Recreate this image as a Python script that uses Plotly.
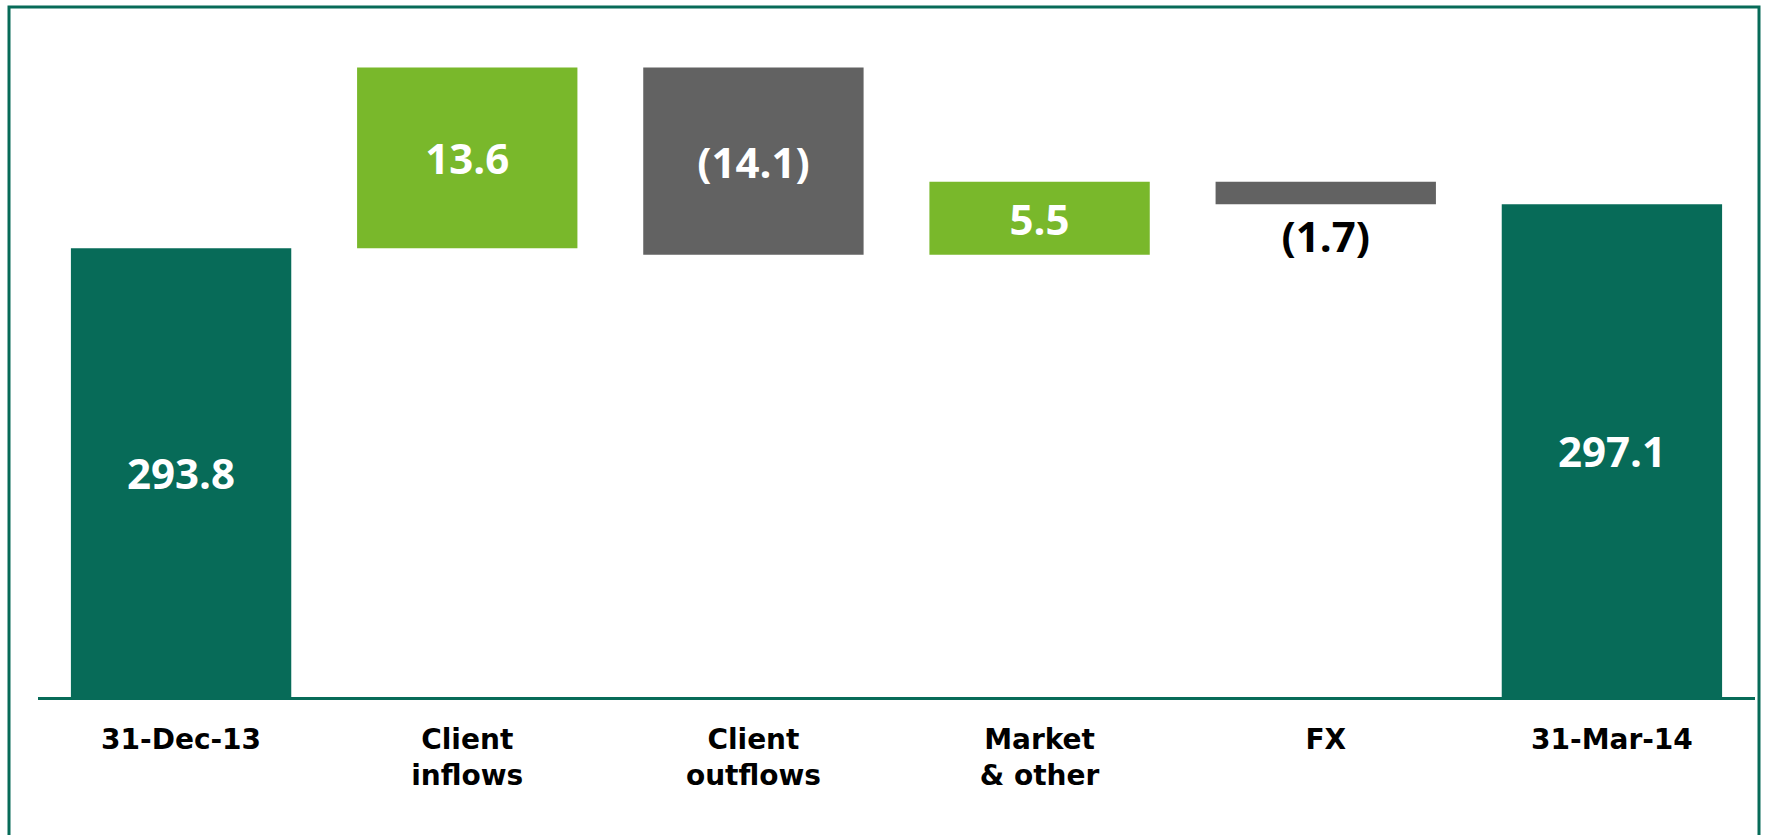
import plotly.graph_objects as go

categories = ["31-Dec-13", "Client<br>inflows", "Client<br>outflows", "Market<br>& other", "FX", "31-Mar-14"]
values = [293.8, 13.6, -14.1, 5.5, -1.7, 297.1]
measures = ["absolute", "relative", "relative", "relative", "relative", "total"]
labels = ["293.8", "13.6", "(14.1)", "5.5", "(1.7)", "297.1"]

Y_MIN, Y_MAX = 260, 310

W, H = 1771, 835
DARK = "#076b58"
GREEN = "#79b82b"
GREY = "#626262"
VALUE_FONT = "Open Sans"

# text shown by the trace for change bars; totals are labelled by annotations
trace_text = [("" if m != "relative" else t) for m, t in zip(measures, labels)]
text_pos = []
for m, v in zip(measures, values):
    if m != "relative":
        text_pos.append("none")
    elif abs(v) < 3:
        text_pos.append("outside")
    else:
        text_pos.append("inside")

fig = go.Figure(go.Waterfall(
    x=categories,
    y=values,
    measure=measures,
    text=trace_text,
    textposition=text_pos,
    texttemplate="<b>%{text}</b>",
    insidetextfont=dict(family=VALUE_FONT, size=42, color="white"),
    outsidetextfont=dict(family=VALUE_FONT, size=42, color="black"),
    insidetextanchor="middle",
    constraintext="none",
    cliponaxis=False,
    increasing=dict(marker=dict(color=GREEN)),
    decreasing=dict(marker=dict(color=GREY)),
    totals=dict(marker=dict(color=DARK)),
    connector=dict(visible=False),
    hoverinfo="skip",
))

annotations = []
for c, m, v, t in zip(categories, measures, values, labels):
    if m != "relative":
        annotations.append(dict(
            x=c, y=(Y_MIN + v) / 2, xref="x", yref="y",
            text="<b>" + t + "</b>", showarrow=False,
            font=dict(family=VALUE_FONT, size=42, color="white"),
        ))

fig.update_layout(
    width=W, height=H,
    margin=dict(l=0, r=0, t=0, b=0, autoexpand=False),
    paper_bgcolor="white", plot_bgcolor="white",
    showlegend=False,
    waterfallgap=0.23,
    annotations=annotations,
    xaxis=dict(
        domain=[38 / W, 1755 / W],
        showline=True, linecolor=DARK, linewidth=3,
        showgrid=False, zeroline=False,
        ticks="outside", ticklen=15, tickcolor="rgba(0,0,0,0)",
        tickfont=dict(family="DejaVu Sans", size=28, color="black", weight="bold"),
        automargin=False,
    ),
    yaxis=dict(
        domain=[(H - 697) / H, (H - 33) / H],
        range=[Y_MIN, Y_MAX],
        visible=False, showgrid=False, zeroline=False,
        automargin=False,
    ),
    shapes=[dict(
        type="rect", xref="paper", yref="paper",
        x0=9 / W, x1=1759 / W, y0=-0.05, y1=1 - 7 / H,
        line=dict(color=DARK, width=3), fillcolor="rgba(0,0,0,0)", layer="above",
    )],
)

fig.write_html(
    "out.html",
    config=dict(displayModeBar=False, staticPlot=True),
    post_script="document.body.style.margin='0';document.body.style.overflow='hidden';",
)
